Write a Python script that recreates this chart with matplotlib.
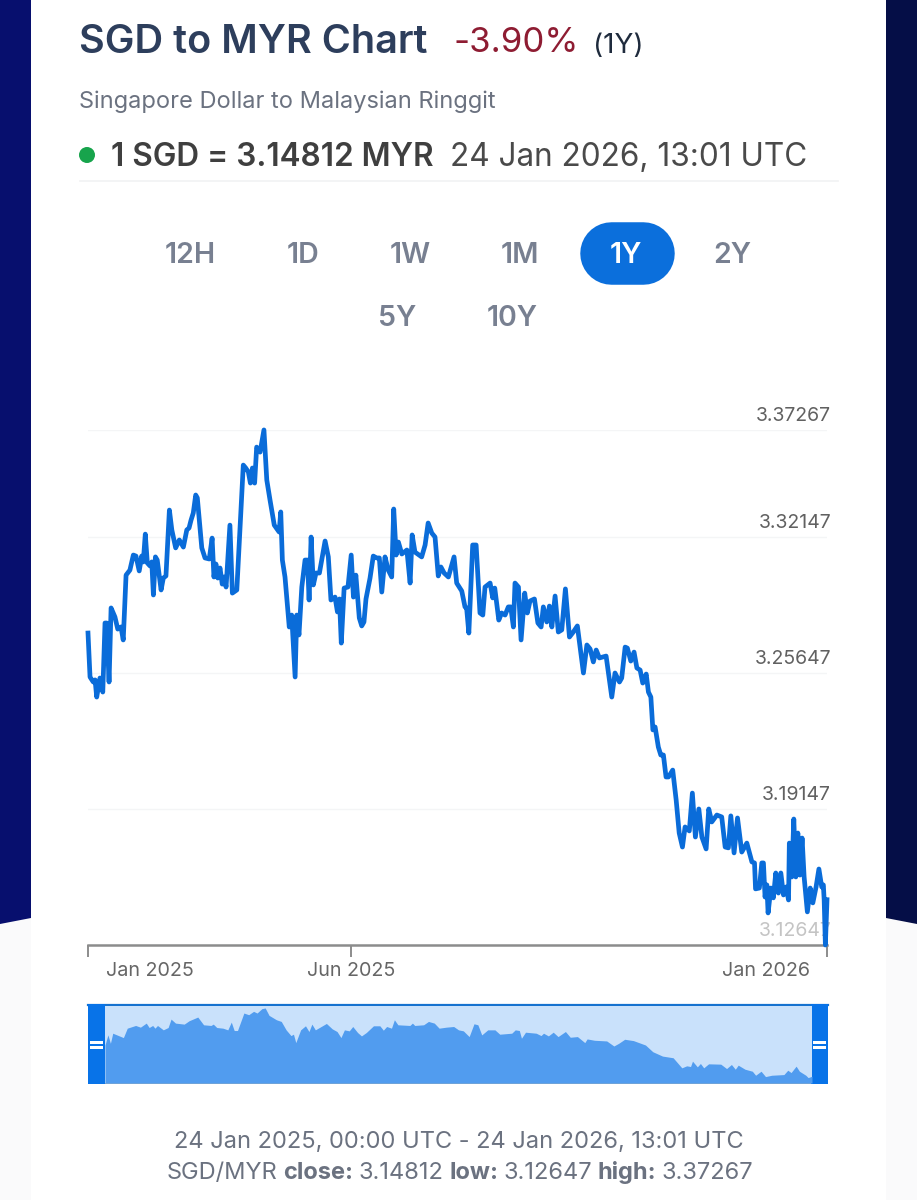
import matplotlib
matplotlib.use("Agg")
import matplotlib.pyplot as plt
from matplotlib.patches import Circle, Polygon, Rectangle

plt.rcParams["font.family"] = ["Inter", "DejaVu Sans"]

# main chart, days since 24 Jan 2025 and SGD/MYR rate
days = [0, 1, 2.6, 3.5, 4.3, 5.9, 7.3, 8.4, 9.2, 10.4, 11.4, 13.3, 14.7, 16.3, 17.4, 18.8, 20.7, 22.4, 23.7, 25.3,
        26.5, 27.3, 28.3, 29.3, 30.6, 31.5, 32.3, 33.3, 34.2, 36.1, 37.2, 38.5, 40.2, 41.4, 43.3, 45.1, 47.1, 48.8, 49.9, 50.9,
        52, 53.2, 54, 56.2, 57.8, 59.9, 61.3, 62.2, 63.2, 64.1, 65.2, 66.3, 67.2, 68.2, 70.1, 71.3, 73.5, 74.7, 76.7, 77.9,
        79.2, 80.2, 81.2, 82.3, 83.3, 85, 86.9, 88.3, 89.9, 92, 94.4, 95.2, 96, 97.3, 99.4, 100.6, 102.3, 103.1, 104.2, 105.6,
        107.2, 108.4, 109.2, 110.2, 111.3, 112.6, 114.3, 117.1, 118.7, 120, 122, 123.2, 124.2, 125.1, 126.5, 128.4, 130, 131.1, 132.3, 134,
        135.2, 136.3, 137.3, 139.3, 140.9, 142.6, 143.9, 145.1, 146.7, 148.3, 150, 151, 152.2, 153.3, 155, 157.5, 159.1, 160.1, 161.5, 164.8,
        166.5, 168, 169.8, 171.4, 173, 174.3, 175.9, 178, 180.8, 182.1, 184.6, 186.2, 187, 188.1, 190, 191.7, 193.6, 195, 196.1, 198.6,
        199.9, 200.9, 202.9, 204.3, 206, 207.6, 208.8, 210.1, 210.9, 212.6, 213.9, 215.7, 217, 218.3, 220.5, 222.2, 223.8, 224.9, 226.6, 227.9,
        229.1, 230.7, 232.3, 234, 235.8, 237.8, 239.7, 241.7, 244.7, 246.4, 248, 249.6, 251, 252.6, 255.9, 258.7, 260.3, 262.5, 263.6, 265.3,
        266.4, 268.1, 269.7, 271.1, 272.7, 274, 275.7, 276.8, 278, 279, 280.1, 281.7, 282.9, 284.2, 285.5, 286.7, 288.8, 290.5, 292, 293.6,
        294.9, 297, 298.5, 300, 301.7, 303.2, 305.3, 306.6, 308.1, 310.6, 313, 314.7, 316.3, 317.5, 319.1, 320.8, 322.9, 325.4, 327.9, 329.2,
        329.7, 331.6, 332.8, 333.6, 334.4, 335.3, 335.9, 337.3, 338.5, 339.7, 341, 342.2, 343.5, 344.8, 346, 346.4, 347.6, 348.6, 349.6, 350.6,
        351.6, 352.7, 353.7, 355.3, 356.7, 358, 359.6, 361, 362.4, 363.2, 363.6, 364.2, 365]
rates = [3.2756, 3.2546, 3.2522, 3.2532, 3.2450, 3.2541, 3.2474, 3.2804, 3.2804, 3.2522, 3.2876, 3.2833, 3.2775, 3.2785, 3.2723, 3.3033, 3.3057, 3.3129, 3.3124, 3.3053,
         3.3124, 3.3096, 3.3229, 3.3091, 3.3077, 3.3096, 3.2938, 3.3120, 3.3105, 3.2962, 3.3019, 3.3029, 3.3344, 3.3249, 3.3163, 3.3201, 3.3167, 3.3249, 3.3258, 3.3296,
         3.3330, 3.3416, 3.3402, 3.3163, 3.3115, 3.3110, 3.3210, 3.3024, 3.3086, 3.3019, 3.3067, 3.2990, 3.3024, 3.2976, 3.3272, 3.2947, 3.2962, 3.3186, 3.3559, 3.3545,
         3.3526, 3.3473, 3.3545, 3.3473, 3.3645, 3.3621, 3.3727, 3.3488, 3.3392, 3.3272, 3.3239, 3.3335, 3.3105, 3.3024, 3.2785, 3.2842, 3.2546, 3.2842, 3.2747, 3.2976,
         3.3105, 3.3105, 3.2914, 3.3215, 3.2986, 3.3043, 3.3043, 3.3196, 3.3120, 3.2914, 3.2928, 3.2857, 3.2919, 3.2708, 3.2971, 3.2976, 3.3129, 3.2928, 3.3033, 3.2828,
         3.2790, 3.2809, 3.2919, 3.3019, 3.3124, 3.3115, 3.3115, 3.2952, 3.3120, 3.3057, 3.3024, 3.3349, 3.3129, 3.3191, 3.3134, 3.3153, 3.2995, 3.3225, 3.3143, 3.3120,
         3.3177, 3.3282, 3.3234, 3.3215, 3.3029, 3.3072, 3.3043, 3.3024, 3.3120, 3.2995, 3.2957, 3.2881, 3.2876, 3.2756, 3.3177, 3.3177, 3.2852, 3.2842, 3.2976, 3.2995,
         3.2924, 3.2971, 3.2818, 3.2852, 3.2842, 3.2881, 3.2881, 3.2785, 3.2995, 3.2976, 3.2723, 3.2947, 3.2852, 3.2909, 3.2919, 3.2804, 3.2785, 3.2881, 3.2809, 3.2885,
         3.2785, 3.2933, 3.2761, 3.2771, 3.2967, 3.2737, 3.2761, 3.2790, 3.2565, 3.2699, 3.2680, 3.2618, 3.2675, 3.2637, 3.2646, 3.2450, 3.2565, 3.2522, 3.2541, 3.2689,
         3.2684, 3.2622, 3.2665, 3.2589, 3.2579, 3.2517, 3.2560, 3.2474, 3.2450, 3.2293, 3.2307, 3.2211, 3.2173, 3.2173, 3.2068, 3.2068, 3.2101, 3.1958, 3.1800, 3.1733,
         3.1829, 3.1810, 3.1991, 3.1781, 3.1915, 3.1781, 3.1724, 3.1915, 3.1853, 3.1886, 3.1877, 3.1733, 3.1729, 3.1882, 3.1705, 3.1872, 3.1709, 3.1752, 3.1662, 3.1657,
         3.1533, 3.1537, 3.1657, 3.1657, 3.1494, 3.1552, 3.1418, 3.1537, 3.1490, 3.1609, 3.1513, 3.1609, 3.1504, 3.1542, 3.1480, 3.1752, 3.1590, 3.1867, 3.1590, 3.1800,
         3.1599, 3.1776, 3.1590, 3.1423, 3.1537, 3.1466, 3.1542, 3.1628, 3.1542, 3.1552, 3.1480, 3.12647, 3.14812]

# navigator area, coarser series
nav_days = [0, 1.5, 2.8, 4, 9.5, 11.5, 15.8, 18.3, 21.3, 22.8, 24.6, 25.8, 27.1, 30.1, 32.6, 34.1, 36.4, 40.9, 43.4, 47.9,
            50.9, 54.7, 55.9, 57.7, 60.9, 63.4, 65.2, 66.7, 68.4, 71.7, 74.2, 76.7, 78.5, 81, 82.7, 84.7, 88.5, 91, 93.5, 96,
            97.3, 98.5, 101, 103.5, 105.3, 106.8, 108.6, 111, 114.3, 117.3, 119.8, 121.8, 123.6, 126.1, 127.9, 130.4, 132.4, 134.9, 138.6, 141.9,
            143.7, 145.4, 147.9, 149.4, 151.2, 157.4, 158.7, 159.9, 164.5, 167, 170, 172.5, 176.2, 180, 182.5, 185, 188, 190.5, 192.5, 194.5,
            197.6, 201.3, 203.8, 210, 211.8, 213.9, 215, 217.1, 222.6, 225.1, 226.4, 228.9, 231.4, 233.9, 237.7, 240.2, 243.9, 247.7, 248.9, 252.7,
            259, 262.7, 265.2, 268.3, 272.8, 279, 282.8, 287.8, 293.3, 297.8, 300.3, 302.3, 303.3, 305.8, 307.4, 309.1, 311.6, 317.9, 320.9, 323.4,
            325.4, 326.9, 330.4, 334.2, 335.9, 338.7, 341, 344.2, 350.5, 352.5, 354.2, 356.8, 358.5, 361.8, 363, 365]
nav_rates = [3.2512, 3.2843, 3.2567, 3.2899, 3.2755, 3.3064, 3.3153, 3.3097, 3.3230, 3.3086, 3.3153, 3.3064, 3.3153, 3.3009, 3.3086, 3.3362, 3.3230, 3.3197, 3.3307, 3.3429,
             3.3175, 3.3153, 3.3197, 3.3086, 3.3064, 3.3009, 3.3263, 3.2987, 3.2987, 3.3561, 3.3506, 3.3616, 3.3561, 3.3705, 3.3727, 3.3484, 3.3340, 3.3285, 3.3009, 3.2821,
             3.2866, 3.2590, 3.3009, 3.3142, 3.2954, 3.3197, 3.3009, 3.3097, 3.3219, 3.3042, 3.2954, 3.2755, 3.3009, 3.2976, 3.3119, 3.2921, 3.2810, 3.2921, 3.3142, 3.3142,
             3.2998, 3.3119, 3.3064, 3.3340, 3.3175, 3.3153, 3.3230, 3.3153, 3.3175, 3.3285, 3.3230, 3.3064, 3.3097, 3.3119, 3.3009, 3.2976, 3.2788, 3.3208, 3.3175, 3.2843,
             3.3009, 3.3009, 3.2866, 3.2899, 3.3009, 3.2987, 3.2733, 3.2932, 3.2899, 3.2821, 3.2899, 3.2810, 3.2932, 3.2788, 3.2954, 3.2766, 3.2788, 3.2590, 3.2711, 3.2667,
             3.2645, 3.2479, 3.2567, 3.2700, 3.2656, 3.2512, 3.2291, 3.2148, 3.2093, 3.1762, 3.1828, 3.1806, 3.1982, 3.1795, 3.1905, 3.1762, 3.1894, 3.1883, 3.1739, 3.1872,
             3.1717, 3.1850, 3.1717, 3.1651, 3.1519, 3.1651, 3.1475, 3.1519, 3.1541, 3.1684, 3.1607, 3.1817, 3.1651, 3.1519, 3.1442, 3.1486]

grid_rates = [3.37267, 3.32147, 3.25647, 3.19147, 3.12647]
grid_labels = ["3.37267", "3.32147", "3.25647", "3.19147", "3.12647"]
tick_days = [0, 130, 365]
range_buttons = ["12H", "1D", "1W", "1M", "1Y", "2Y", "5Y", "10Y"]
date_labels = ["Jan 2025", "Jun 2025", "Jan 2026"]

W, H = 917, 1200
BLUE = "#0b6fdc"


def px_axes(fig, x0, y0, x1, y1, **kw):
    # axes from pixel box, y measured from the top
    return fig.add_axes([x0 / W, 1 - y1 / H, (x1 - x0) / W, (y1 - y0) / H], **kw)


fig = plt.figure(figsize=(W / 100, H / 100), dpi=100, facecolor="#fafafb")

# page background and header, in pixel coordinates
bg = px_axes(fig, 0, 0, W, H)
bg.set_xlim(0, W)
bg.set_ylim(H, 0)
bg.axis("off")
bg.add_patch(Rectangle((31, 0), 855, H, fc="white", ec="none"))
bg.add_patch(Polygon([(0, 0), (31, 0), (31, 918), (0, 924)], fc="#070f6e", ec="none"))
bg.add_patch(Polygon([(886, 0), (917, 0), (917, 924), (886, 918)], fc="#050e47", ec="none"))

bg.text(79, 53, "SGD to MYR Chart", fontsize=28.5, fontweight="semibold", color="#2d3e5c")
bg.text(453, 52, "-3.90%", fontsize=25, color="#8e1c32")
bg.text(593, 53, "(1Y)", fontsize=20, color="#1f2b3d")
bg.text(79, 108, "Singapore Dollar to Malaysian Ringgit", fontsize=17, color="#6b7280")
bg.add_patch(Circle((87, 155), 8, fc="#17a44c", ec="none"))
bg.text(111, 166, "1 SGD = 3.14812 MYR", fontsize=22.7, fontweight="semibold", color="#3f3f3f")
bg.text(450, 166, "24 Jan 2026, 13:01 UTC", fontsize=22.7, color="#4a4a4a")
bg.plot([80, 838], [181, 181], color="#f1f2f3", lw=1.2)

# selected range pill
bg.plot([610.5, 642.5], [252.5, 252.5], color=BLUE, lw=45, solid_capstyle="round")
button_x = [190, 303, 410, 520, 626, 732, 397, 512]
button_y = [263, 263, 263, 263, 263, 263, 326, 326]
for name, bx, by in zip(range_buttons, button_x, button_y):
    col = "white" if name == "1Y" else "#788091"
    bg.text(bx, by, name, fontsize=20.5, fontweight="semibold", color=col, ha="center")

# main line chart
ax = px_axes(fig, 88, 430, 827, 945)
ax.patch.set_alpha(0)
ax.set_xlim(0, 365)
ax.set_ylim(3.12647, 3.37267)
for side in ["top", "left", "right"]:
    ax.spines[side].set_visible(False)
ax.spines["bottom"].set_color("#8c8c8c")
ax.spines["bottom"].set_linewidth(1.8)
ax.set_yticks(grid_rates)
ax.set_yticklabels([])
ax.tick_params(axis="y", length=0)
ax.grid(axis="y", color="#f4f5f6", lw=1)
ax.set_axisbelow(True)
ax.set_xticks(tick_days)
ax.set_xticklabels([])
ax.tick_params(axis="x", length=8.5, width=1.4, color="#8c8c8c")
for val, lab in zip(grid_rates, grid_labels):
    col = "#c4c4c4" if val == 3.12647 else "#616161"
    ax.annotate(lab, xy=(365, val), xytext=(3, 6.5), textcoords="offset points",
                ha="right", va="baseline", fontsize=14, color=col, zorder=1, annotation_clip=False)
ax.plot(days, rates, color="#0a6cd9", lw=3.4, solid_joinstyle="round", clip_on=False, zorder=3)

for lab, lx in zip(date_labels, [149.5, 351.5, 766.5]):
    bg.text(lx, 976, lab, fontsize=14.2, color="#666666", ha="center")

# navigator
nav = px_axes(fig, 105, 1006, 812, 1083, facecolor="#c9e1fb")
nav.set_xlim(0, 365)
nav.set_ylim(3.12647, 3.3792)
nav.fill_between(nav_days, nav_rates, 3.12647, color="#519cef", lw=0)
nav.set_xticks([])
nav.set_yticks([])
for side in nav.spines.values():
    side.set_visible(False)
bg.plot([105, 812], [1083, 1083], color="#8aaac2", lw=1.4, zorder=5)
bg.plot([88, 828], [1005, 1005], color="#1672cf", lw=1.6, zorder=5)
for hx in [88, 811]:
    bg.add_patch(Rectangle((hx, 1004), 17, 80, fc="#0873e8", ec="none", zorder=6))
    bg.add_patch(Rectangle((hx + 2, 1041), 13, 3, fc="white", ec="none", zorder=7))
    bg.add_patch(Rectangle((hx + 2, 1046), 13, 3, fc="white", ec="none", zorder=7))

# footer
bg.text(458.5, 1148, "24 Jan 2025, 00:00 UTC - 24 Jan 2026, 13:01 UTC", fontsize=17, color="#6b7280", ha="center")
fig.canvas.draw()
inv = bg.transData.inverted()
cur = 167
for s, weight in [("SGD/MYR", "normal"), ("close:", "bold"), ("3.14812", "normal"), ("low:", "bold"),
                  ("3.12647", "normal"), ("high:", "bold"), ("3.37267", "normal")]:
    t = bg.text(cur, 1179, s, fontsize=17, color="#6b7280", fontweight=weight)
    right = t.get_window_extent(fig.canvas.get_renderer()).x1
    cur = inv.transform((right, 0))[0] + 5.5

fig.savefig("out.png", dpi=100, facecolor=fig.get_facecolor())
